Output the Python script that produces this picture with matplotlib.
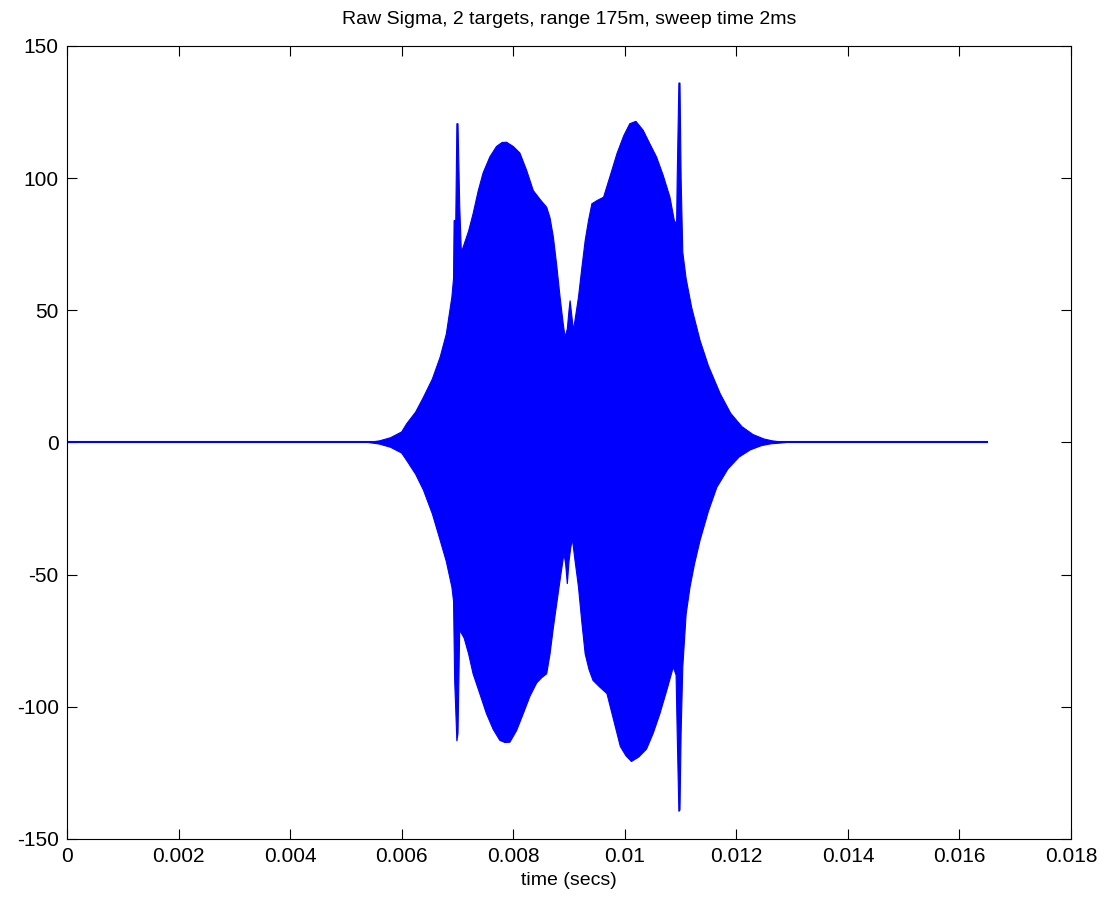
import numpy as np
import matplotlib
matplotlib.use("Agg")
import matplotlib.pyplot as plt

plt.rcParams['font.family'] = ['Liberation Sans', 'DejaVu Sans']
plt.rcParams['axes.unicode_minus'] = False

# envelope of the raw signal (time in secs, amplitude)
t_upper = [0.00540, 0.00560, 0.00580, 0.00600, 0.00609, 0.00625, 0.00639, 0.00655,
           0.00669, 0.00680, 0.00690, 0.00693, 0.00694, 0.00697, 0.00699, 0.00701,
           0.00704, 0.00707, 0.00712, 0.00720, 0.00728, 0.00737, 0.00746, 0.00758,
           0.00770, 0.00780, 0.00788, 0.00800, 0.00812, 0.00824, 0.00836, 0.00848,
           0.00860, 0.00866, 0.00872, 0.00878, 0.00884, 0.00889, 0.00893, 0.00897,
           0.00900, 0.00902, 0.00905, 0.00908, 0.00912, 0.00917, 0.00923, 0.00929,
           0.00935, 0.00941, 0.00950, 0.00962, 0.00974, 0.00986, 0.00998, 0.01009,
           0.01020, 0.01033, 0.01045, 0.01057, 0.01069, 0.01081, 0.01090, 0.01093,
           0.01094, 0.01097, 0.01099, 0.01101, 0.01104, 0.01110, 0.01120, 0.01135,
           0.01150, 0.01171, 0.01190, 0.01210, 0.01230, 0.01250, 0.01265, 0.01280,
           0.01290]
upper = [0.0, 0.6, 1.8, 4.0, 7.1, 11.5, 17.1, 24.0,
         32.3, 41.0, 55.0, 62.0, 84.0, 84.0, 120.6, 120.6,
         90.0, 72.0, 75.0, 80.0, 86.5, 95.0, 102.0, 108.0,
         112.0, 113.5, 113.6, 112.0, 109.5, 103.0, 95.3, 92.0,
         89.0, 85.0, 77.7, 67.0, 55.0, 46.0, 39.8, 43.0,
         50.0, 53.7, 48.0, 42.4, 48.0, 55.0, 66.0, 76.4,
         84.0, 90.3, 91.5, 92.8, 101.0, 109.3, 116.0, 120.6,
         121.5, 118.1, 113.0, 108.0, 101.0, 92.8, 82.7, 84.0,
         100.0, 136.0, 136.0, 100.0, 72.0, 62.0, 51.0, 38.6,
         29.0, 18.5, 11.0, 6.0, 3.0, 1.3, 0.6, 0.2,
         0.0]

t_lower = [0.00540, 0.00560, 0.00580, 0.00600, 0.00609, 0.00625, 0.00639, 0.00655,
           0.00669, 0.00680, 0.00690, 0.00693, 0.00695, 0.00699, 0.00701, 0.00704,
           0.00712, 0.00720, 0.00728, 0.00740, 0.00752, 0.00764, 0.00776, 0.00785,
           0.00794, 0.00806, 0.00818, 0.00830, 0.00842, 0.00851, 0.00860, 0.00866,
           0.00872, 0.00878, 0.00884, 0.00891, 0.00894, 0.00897, 0.00900, 0.00903,
           0.00906, 0.00911, 0.00917, 0.00923, 0.00929, 0.00936, 0.00943, 0.00955,
           0.00968, 0.00980, 0.00992, 0.01002, 0.01012, 0.01025, 0.01039, 0.01051,
           0.01063, 0.01075, 0.01087, 0.01092, 0.01094, 0.01097, 0.01099, 0.01101,
           0.01104, 0.01110, 0.01117, 0.01125, 0.01135, 0.01150, 0.01165, 0.01185,
           0.01205, 0.01225, 0.01245, 0.01262, 0.01280, 0.01290]
lower = [0.0, -0.6, -1.8, -4.0, -6.8, -12.0, -18.0, -27.0,
         -37.0, -45.0, -54.7, -60.0, -90.0, -113.0, -110.0, -71.0,
         -74.0, -80.0, -87.5, -95.0, -102.6, -108.5, -112.7, -113.5,
         -113.4, -109.0, -102.6, -96.0, -91.0, -89.0, -87.5, -80.0,
         -70.0, -61.0, -52.0, -42.0, -46.0, -53.5, -45.0, -40.0,
         -36.5, -45.0, -54.7, -68.0, -80.0, -86.0, -90.0, -92.5,
         -95.0, -105.0, -115.0, -118.5, -120.7, -119.0, -116.0, -110.0,
         -102.6, -94.0, -85.0, -88.0, -110.0, -139.6, -139.0, -110.0,
         -85.0, -65.0, -54.7, -46.0, -37.0, -26.0, -17.0, -10.0,
         -5.5, -2.8, -1.2, -0.5, -0.2, 0.0]

baseline_t = [0.0, 0.0165]
baseline_v = [0.0, 0.0]

x_ticks = [0, 0.002, 0.004, 0.006, 0.008, 0.01, 0.012, 0.014, 0.016, 0.018]
x_labels = ['0', '0.002', '0.004', '0.006', '0.008', '0.01', '0.012', '0.014', '0.016', '0.018']
y_ticks = [-150, -100, -50, 0, 50, 100, 150]

fig = plt.figure(figsize=(11.04, 9), dpi=100)
ax = fig.add_axes([0.0607, 0.0678, 0.9094, 0.8811])

blue = '#0000ff'
ax.plot(baseline_t, baseline_v, color=blue, lw=1.5)
poly_t = np.concatenate([t_upper, t_lower[::-1]])
poly_v = np.concatenate([upper, lower[::-1]])
ax.fill(poly_t, poly_v, color=blue, lw=0.8, edgecolor=blue)

ax.set_xlim(0, 0.018)
ax.set_ylim(-150, 150)
ax.set_xticks(x_ticks)
ax.set_xticklabels(x_labels)
ax.set_yticks(y_ticks)
ax.tick_params(direction='in', length=7, width=0.8, labelsize=15,
               top=True, right=True, pad=6)
for s in ax.spines.values():
    s.set_linewidth(0.8)

ax.set_title('Raw Sigma, 2 targets, range 175m, sweep time 2ms', fontsize=14, pad=16)
ax.set_xlabel('time (secs)', fontsize=14, labelpad=4)

fig.savefig('out.png', dpi=100)
